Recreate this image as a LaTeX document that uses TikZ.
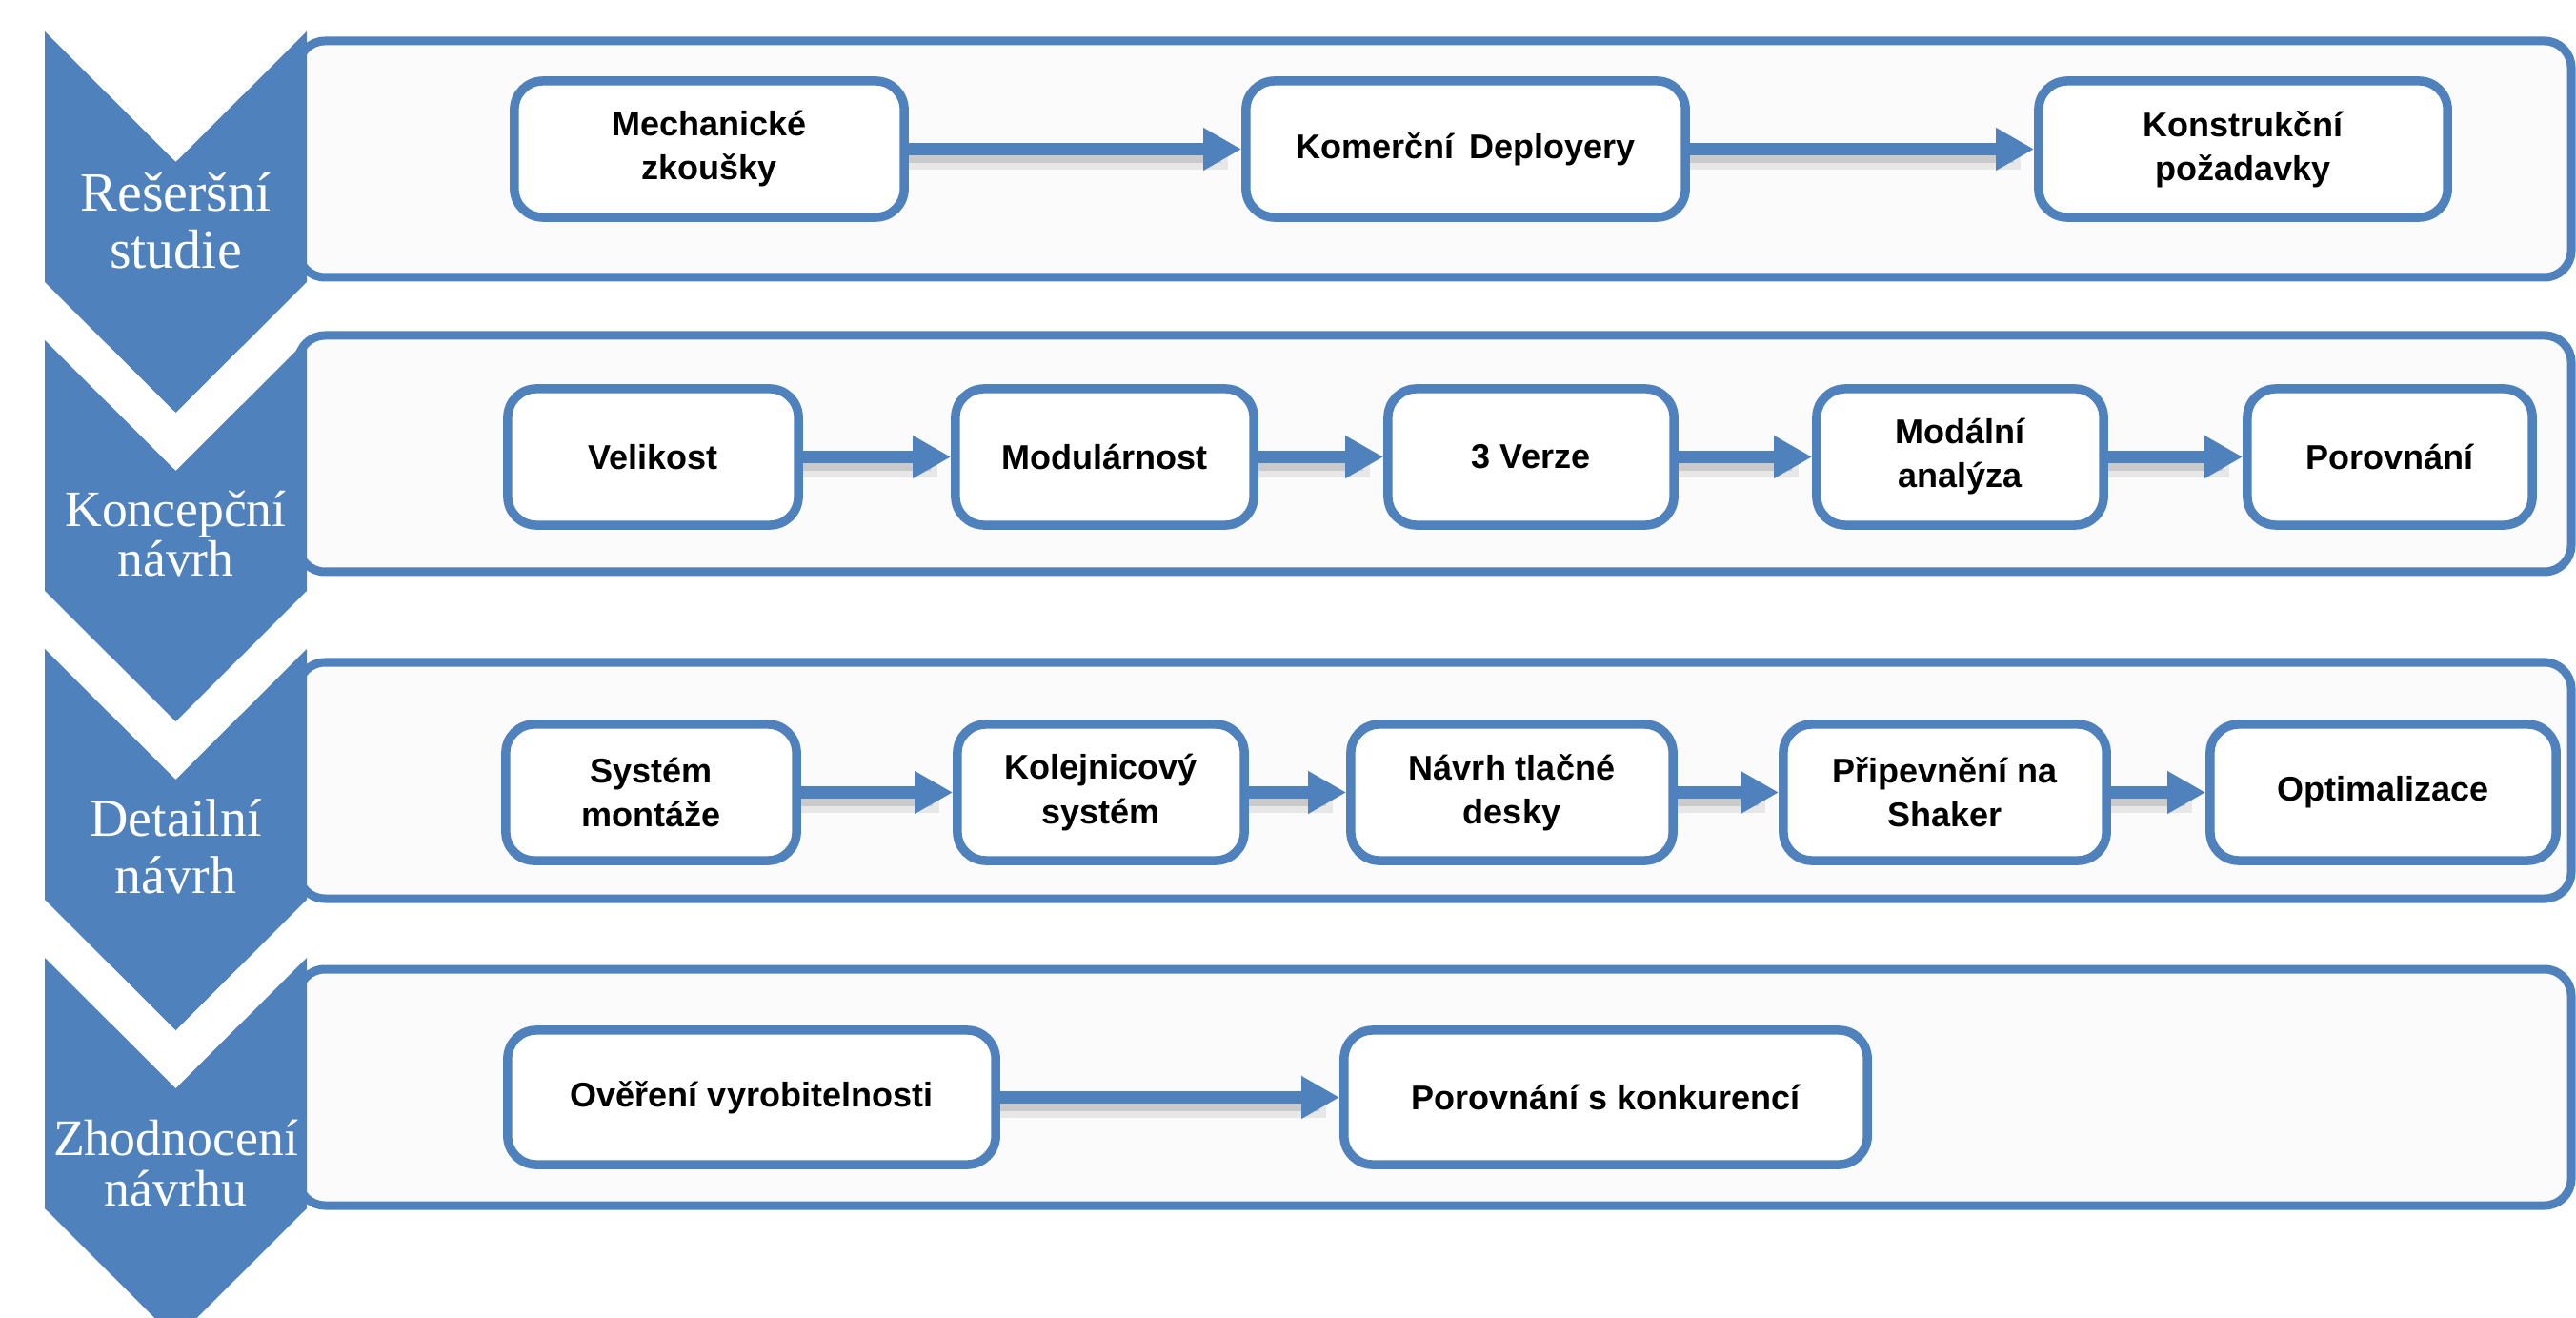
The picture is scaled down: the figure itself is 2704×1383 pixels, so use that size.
\documentclass[tikz,border=0pt]{standalone}
\usepackage{fontspec}
\setmainfont{Liberation Serif}
\newfontfamily\boxfont{Liberation Sans}
\usetikzlibrary{arrows.meta}
\definecolor{ublue}{RGB}{79,129,189}
\definecolor{panelfill}{RGB}{251,251,252}
\begin{document}
\begin{tikzpicture}[x=0.01cm,y=-0.01cm,
  panel/.style={draw=ublue, line width=0.09cm, fill=panelfill, rounded corners=0.28cm},
  chev/.style={fill=ublue},
  chevtext/.style={text=white, align=center, inner sep=0pt, anchor=base},
  stepbox/.style={draw=ublue, line width=0.095cm, fill=white, rounded corners=0.3cm,
    minimum height=1.43cm, inner sep=0pt, align=center,
    font=\boxfont\bfseries\fontsize{10.24pt}{13.1pt}\selectfont},
  arr/.style={draw=ublue, line width=0.13cm, -{Triangle[length=0.40cm, width=0.42cm]}},
  shad/.style={draw=black, line width=0.18cm, opacity=0.08},
  shadb/.style={draw=black, line width=0.11cm, opacity=0.12}
]
\useasboundingbox (0,0) rectangle (2704,1383);
\clip (0,0) rectangle (2704,1383);

% panels
\draw[panel] (313,43) rectangle (2699,291);
\draw[panel] (313,352) rectangle (2699,600);
\draw[panel] (313,695) rectangle (2699,943);
\draw[panel] (313,1017) rectangle (2699,1265);

% chevrons
\foreach \t in {33,357,681,1005}{
  \fill[chev] (47,\t) -- (184.5,\t+137) -- (322,\t) -- (322,\t+263) -- (184.5,\t+400) -- (47,\t+263) -- cycle;
}

% chevron labels (anchor base = baseline of the last line)
\node[chevtext, font=\fontsize{16.5pt}{17.1pt}\selectfont] (c1) at (184.5,282) {Rešeršní\\studie};
\node[chevtext, font=\fontsize{15.25pt}{14.8pt}\selectfont] (c2) at (184.5,605) {Koncepční\\návrh};
\node[chevtext, font=\fontsize{15.9pt}{16.8pt}\selectfont] (c3) at (184.5,937) {Detailní\\návrh};
\node[chevtext, font=\fontsize{15.3pt}{14.8pt}\selectfont] (c4) at (184.5,1265) {Zhodnocení\\návrhu};

% row 1
\node[stepbox, minimum width=4.09cm] (mech) at (744.5,156.5) {Mechanické\\zkoušky};
\node[stepbox, minimum width=4.61cm] (kom) at (1538.5,156.5) {Komerční\, Deployery};
\node[stepbox, minimum width=4.29cm] (kon) at (2354.5,156.5) {Konstrukční\\požadavky};
% row 2
\node[stepbox, minimum width=3.05cm] (vel) at (685.5,479.5) {Velikost};
\node[stepbox, minimum width=3.13cm] (mod) at (1159.5,479.5) {Modulárnost};
\node[stepbox, minimum width=3.00cm] (ver) at (1607,479.5) {3 Verze};
\node[stepbox, minimum width=3.01cm] (mda) at (2057.5,479.5) {Modální\\analýza};
\node[stepbox, minimum width=2.99cm] (por) at (2508.5,479.5) {Porovnání};
% row 3
\node[stepbox, minimum width=3.05cm] (sys) at (683.5,831.5) {Systém\\montáže};
\node[stepbox, minimum width=3.01cm] (kol) at (1155.5,831.5) {Kolejnicový\\systém};
\node[stepbox, minimum width=3.38cm] (nav) at (1587,831.5) {Návrh tlačné\\desky};
\node[stepbox, minimum width=3.39cm] (pri) at (2041.5,831.5) {Připevnění na\\Shaker};
\node[stepbox, minimum width=3.63cm] (opt) at (2501.5,831.5) {Optimalizace};
% row 4
\node[stepbox, minimum width=5.12cm, minimum height=1.41cm] (ove) at (789,1151.5) {Ověření vyrobitelnosti};
\node[stepbox, minimum width=5.49cm, minimum height=1.41cm] (pk) at (1685.5,1151.5) {Porovnání s konkurencí};

% connectors
\foreach \a/\b in {mech/kom,kom/kon,vel/mod,mod/ver,ver/mda,mda/por,sys/kol,kol/nav,nav/pri,pri/opt,ove/pk}{
  \draw[shad] ([yshift=-3.5pt]\a.east) -- ([xshift=-4pt,yshift=-3.5pt]\b.west);
  \draw[shadb] ([yshift=-2.5pt]\a.east) -- ([xshift=-6pt,yshift=-2.5pt]\b.west);
  \draw[arr] (\a.east) -- (\b.west);
}
\end{tikzpicture}
\end{document}
